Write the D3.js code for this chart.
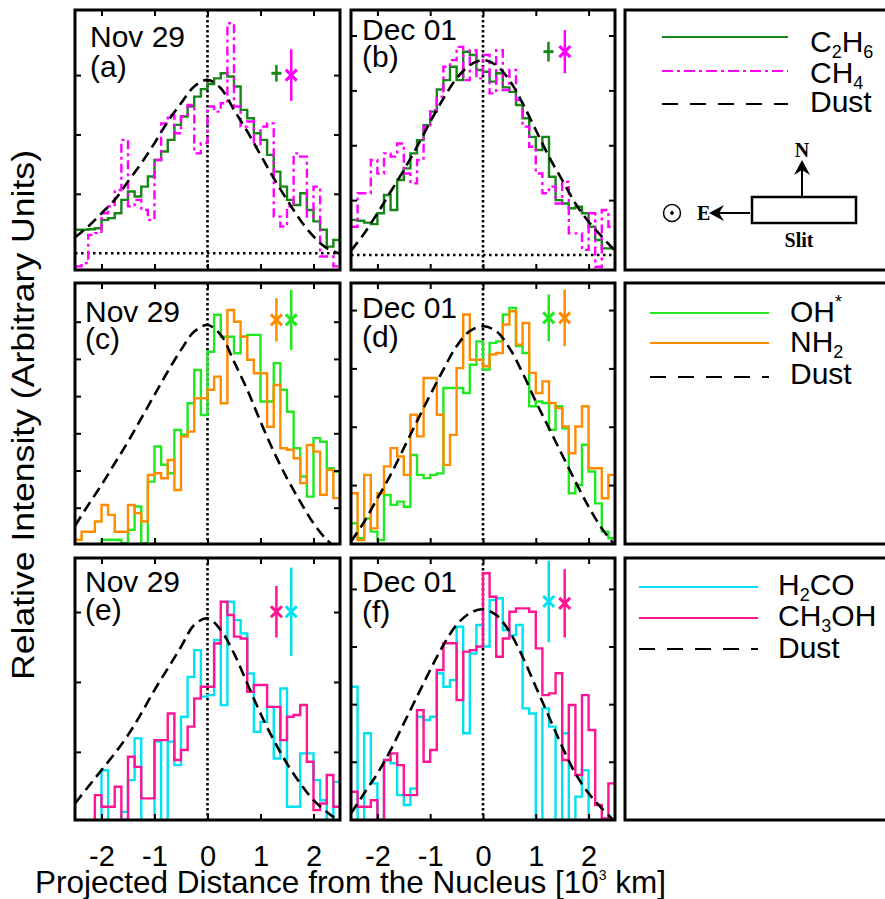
<!DOCTYPE html>
<html>
<head>
<meta charset="utf-8">
<script src="https://cdn.jsdelivr.net/npm/d3@7"></script>
<style>
  body { margin: 0; background: #fff; }
  svg { display: block; font-family: 'Liberation Sans', Arial, Helvetica, sans-serif; }
</style>
</head>
<body>
<svg id="chart" width="885" height="899"></svg>
<script>
// x grid: 40 slit pixels between -2.5 and 2.5 (10^3 km)
const xTicks = [-2, -1, 0, 1, 2];
const binEdges = d3.range(41).map(i => -2.5 + i * 0.125);
const dustX = [-2.5, -2.25, -2, -1.75, -1.5, -1.25, -1, -0.75, -0.5, -0.25, 0,
  0.25, 0.5, 0.75, 1, 1.25, 1.5, 1.75, 2, 2.25, 2.5];

// (a) Nov 29
const c2h6Nov = [0.078,0.078,0.08,0.083,0.111,0.117,0.133,0.178,0.206,0.189,0.222,0.256,0.311,0.339,0.378,0.428,0.456,0.489,0.522,0.547,
  0.564,0.583,0.6,0.589,0.556,0.478,0.45,0.4,0.378,0.328,0.272,0.222,0.178,0.161,0.2,0.144,0.106,0.078,0.022,0.044];
const ch4Nov = [-0.044,-0.033,0.061,0.067,0.133,0.156,0.211,0.378,0.156,0.178,0.144,0.111,0.311,0.433,0.461,0.4,0.456,0.494,0.333,0.367,
  0.489,0.472,0.5,0.767,0.489,0.422,0.439,0.356,0.422,0.433,0.122,0.089,0.156,0.333,0.322,0.122,0.222,-0.011,-0.011,-0.044];
const dustA = [0.053,0.089,0.133,0.178,0.239,0.3,0.367,0.439,0.5,0.556,0.578,0.55,0.478,0.406,0.328,0.25,0.178,0.111,0.056,0.017,-0.002];

// (b) Dec 01
const c2h6Dec = [0.117,0.114,0.108,0.103,0.139,0.2,0.15,0.25,0.289,0.339,0.383,0.433,0.478,0.552,0.583,0.628,0.583,0.678,0.667,0.617,
  0.611,0.578,0.606,0.559,0.544,0.5,0.456,0.394,0.35,0.394,0.261,0.183,0.172,0.156,0.161,0.139,0.094,0.05,0.022,0.022];
const ch4Dec = [0.094,0.206,0.206,0.317,0.272,0.339,0.328,0.372,0.272,0.239,0.317,0.428,0.483,0.528,0.628,0.65,0.694,0.583,0.683,0.589,
  0.667,0.539,0.683,0.55,0.617,0.517,0.428,0.361,0.272,0.206,0.228,0.172,0.244,0.072,0.072,0.017,0.139,-0.039,0.15,0.094];
const dustB = [0.014,0.072,0.139,0.211,0.283,0.361,0.444,0.522,0.589,0.633,0.65,0.633,0.583,0.506,0.417,0.328,0.25,0.172,0.111,0.061,0.014];

// (c) Nov 29
const ohNov = [-0.011,-0.011,-0.011,-0.011,0.017,0.017,0.017,0.006,0.05,0.128,0.006,0.211,0.328,0.267,0.239,0.383,0.367,0.472,0.583,0.433,
  0.644,0.767,0.694,0.694,0.639,0.694,0.7,0.7,0.478,0.478,0.606,0.517,0.444,0.322,0.228,0.161,0.356,0.344,0.256,0.244];
const nh2Nov = [0.017,0.044,0.044,0.078,0.133,0.1,0.044,0.044,0.133,0.106,0.078,0.233,0.239,0.222,0.283,0.183,0.361,0.378,0.489,0.489,
  0.517,0.561,0.472,0.783,0.744,0.694,0.617,0.572,0.572,0.394,0.533,0.322,0.317,0.289,0.206,0.333,0.311,0.167,0.25,0.156];
const dustC = [0.064,0.133,0.2,0.272,0.344,0.422,0.5,0.578,0.65,0.711,0.733,0.7,0.611,0.517,0.411,0.311,0.222,0.144,0.072,0.017,-0.022];

// (d) Dec 01
const ohDec = [0.067,0.017,0.083,0.039,0.011,0.161,0.128,0.139,0.122,0.294,0.228,0.217,0.228,0.233,0.517,0.517,0.517,0.5,0.594,0.672,
  0.578,0.667,0.672,0.761,0.783,0.656,0.633,0.456,0.472,0.467,0.378,0.456,0.383,0.167,0.194,0.328,0.239,0.133,0.039,0.017];
const nh2Dec = [0.167,0.011,0.228,0.05,0.167,0.256,0.317,0.289,0.228,0.428,0.356,0.55,0.55,0.428,0.261,0.361,0.583,0.761,0.611,0.611,
  0.589,0.628,0.633,0.728,0.772,0.661,0.733,0.567,0.5,0.539,0.467,0.45,0.389,0.3,0.389,0.456,0.25,0.25,0.15,0.228];
const dustD = [0.006,0.072,0.15,0.228,0.317,0.406,0.494,0.578,0.656,0.706,0.722,0.706,0.65,0.567,0.472,0.383,0.294,0.206,0.122,0.05,-0.006];

// (e) Nov 29
const h2coNov = [-0.006,-0.006,-0.006,-0.006,0.172,0,0,0.033,0.139,0.278,0,0,0.267,0,0.267,0.189,0.35,0.483,0.572,0.417,
  0.422,0.606,0.389,0.733,0.672,0.628,0.494,0.3,0.333,0.383,0.211,0.444,0.05,0.05,0.228,0.228,0.139,0.072,0.006,0.133];
const ch3ohNov = [0.006,-0.006,-0.006,0.089,0.05,0.05,0.117,0.006,0.217,0.183,0.078,0.078,0.272,0.272,0.361,0.206,0.239,0.317,0.411,0.45,
  0.45,0.594,0.733,0.689,0.617,0.611,0.433,0.456,0.456,0.383,0.383,0.272,0.35,0.356,0.389,0.2,0.039,0.061,0.156,0.05];
const dustE = [0.061,0.117,0.172,0.228,0.289,0.361,0.439,0.511,0.583,0.656,0.678,0.639,0.561,0.461,0.361,0.272,0.194,0.128,0.072,0.033,0];

// (f) Dec 01
const h2coDec = [0.442,-0.002,0.287,0.12,-0.002,0.198,0.187,0.081,0.048,0.103,0.342,0.331,0.342,0.487,0.442,0.464,0.642,0.287,0.553,0.648,
  0.576,0.731,0.737,0.631,0.614,0.648,0.37,0.353,-0.002,0.37,0.309,-0.002,0.287,-0.002,0.076,0.164,-0.002,-0.002,-0.002,-0.002];
const ch3ohDec = [0.092,0.042,0.042,0.064,-0.002,0.198,0.22,0.181,0.081,0.081,0.364,0.192,0.231,0.498,0.587,0.587,0.398,0.559,0.564,0.576,
  0.82,0.742,0.542,0.603,0.692,0.703,0.703,0.692,0.57,0.414,0.42,0.487,0.198,0.381,0.148,0.414,0.298,0.048,0.003,0.12];
const dustF = [0.02,0.087,0.153,0.231,0.32,0.409,0.498,0.581,0.648,0.687,0.7,0.681,0.626,0.542,0.442,0.342,0.242,0.153,0.087,0.037,-0.008];

const colors = { c2h6: '#178517', ch4: '#ff00ff', oh: '#22e822', nh2: '#ff8c00', h2co: '#00e2f0', ch3oh: '#ff1493', dust: '#000' };
const dashDot = '9,4,3,4';

// layout
const cols = [[75, 340], [351, 615], [625, 888]];
const rows = [[10, 270], [283, 544], [558, 820]];

const panels = [
  { col: 0, row: 0, yDomain: [-0.056, 0.811], yStep: 0.198, zeroLine: true, date: 'Nov 29', tag: '(a)', lab: [15, 37, 67],
    series: [{ v: c2h6Nov, c: colors.c2h6 }, { v: ch4Nov, c: colors.ch4, dash: dashDot }], dust: dustA,
    errs: [{ x: 1.30, y: 0.6, e: 0.028, c: colors.c2h6, plus: true }, { x: 1.58, y: 0.594, e: 0.086, c: colors.ch4 }] },
  { col: 1, row: 0, yDomain: [-0.05, 0.817], yStep: 0.183, zeroLine: true, date: 'Dec 01', tag: '(b)', lab: [11, 30, 57],
    series: [{ v: c2h6Dec, c: colors.c2h6 }, { v: ch4Dec, c: colors.ch4, dash: dashDot }], dust: dustB,
    errs: [{ x: 1.24, y: 0.678, e: 0.033, c: colors.c2h6, plus: true }, { x: 1.55, y: 0.678, e: 0.072, c: colors.ch4 }] },
  { col: 0, row: 1, yDomain: [0.003, 0.873], yStep: 0.124, date: 'Nov 29', tag: '(c)', lab: [10, 39, 66],
    series: [{ v: ohNov, c: colors.oh }, { v: nh2Nov, c: colors.nh2 }], dust: dustC,
    errs: [{ x: 1.30, y: 0.75, e: 0.072, c: colors.nh2 }, { x: 1.58, y: 0.75, e: 0.1, c: colors.oh }] },
  { col: 1, row: 1, yDomain: [-0.002, 0.866], yStep: 0.194, date: 'Dec 01', tag: '(d)', lab: [11, 35, 64],
    series: [{ v: ohDec, c: colors.oh }, { v: nh2Dec, c: colors.nh2 }], dust: dustD,
    errs: [{ x: 1.245, y: 0.75, e: 0.078, c: colors.oh }, { x: 1.547, y: 0.75, e: 0.094, c: colors.nh2 }] },
  { col: 0, row: 2, yDomain: [0.006, 0.879], yStep: 0.233, date: 'Nov 29', tag: '(e)', lab: [10, 34, 62], xLabels: true,
    series: [{ v: h2coNov, c: colors.h2co }, { v: ch3ohNov, c: colors.ch3oh }], dust: dustE,
    errs: [{ x: 1.30, y: 0.70, e: 0.086, c: colors.ch3oh }, { x: 1.58, y: 0.70, e: 0.147, c: colors.h2co }] },
  { col: 1, row: 2, yDomain: [-0.002, 0.871], yStep: 0.192, date: 'Dec 01', tag: '(f)', lab: [11, 34, 64], xLabels: true,
    series: [{ v: h2coDec, c: colors.h2co }, { v: ch3ohDec, c: colors.ch3oh }], dust: dustF,
    errs: [{ x: 1.245, y: 0.726, e: 0.136, c: colors.h2co }, { x: 1.547, y: 0.72, e: 0.114, c: colors.ch3oh }] }
];

const svg = d3.select('#chart');
const defs = svg.append('defs');

panels.forEach((p, i) => {
  const [x0, x1] = cols[p.col];
  const [y0, y1] = rows[p.row];
  const x = d3.scaleLinear().domain([-2.5, 2.5]).range([x0, x1]);
  const y = d3.scaleLinear().domain(p.yDomain).range([y1, y0]);
  const yTicks = d3.range(p.yStep, p.yDomain[1] - 0.02, p.yStep);

  defs.append('clipPath').attr('id', 'clip' + i)
    .append('rect').attr('x', x0).attr('y', y0).attr('width', x1 - x0).attr('height', y1 - y0);

  const g = svg.append('g');
  const plot = g.append('g').attr('clip-path', `url(#clip${i})`);

  // dotted reference lines
  plot.append('line')
    .attr('x1', x(0)).attr('x2', x(0)).attr('y1', y0).attr('y2', y1)
    .attr('stroke', '#000').attr('stroke-width', 2.6).attr('stroke-dasharray', '2.5,2.5');
  if (p.zeroLine) {
    plot.append('line')
      .attr('x1', x0).attr('x2', x1).attr('y1', y(0)).attr('y2', y(0))
      .attr('stroke', '#000').attr('stroke-width', 2.4).attr('stroke-dasharray', '2.5,3.5');
  }

  const step = d3.line().curve(d3.curveStepAfter).x(d => x(d[0])).y(d => y(d[1]));
  p.series.forEach(s => {
    const pts = s.v.map((v, k) => [binEdges[k], v]).concat([[binEdges[40], s.v[39]]]);
    plot.append('path').datum(pts)
      .attr('d', step)
      .attr('fill', 'none')
      .attr('stroke', s.c)
      .attr('stroke-width', 2.4)
      .attr('stroke-dasharray', s.dash || null);
  });

  const smooth = d3.line().curve(d3.curveCatmullRom).x(d => x(d[0])).y(d => y(d[1]));
  plot.append('path').datum(dustX.map((xv, k) => [xv, p.dust[k]]))
    .attr('d', smooth)
    .attr('fill', 'none')
    .attr('stroke', colors.dust)
    .attr('stroke-width', 2.6)
    .attr('stroke-dasharray', '11,6');

  // representative error bars
  p.errs.forEach(e => {
    const cx = x(e.x), cy = y(e.y);
    g.append('line').attr('x1', cx).attr('x2', cx).attr('y1', y(e.y - e.e)).attr('y2', y(e.y + e.e))
      .attr('stroke', e.c).attr('stroke-width', 2.5);
    if (e.plus) {
      g.append('line').attr('x1', cx - 5).attr('x2', cx + 5).attr('y1', cy).attr('y2', cy)
        .attr('stroke', e.c).attr('stroke-width', 3);
    } else {
      g.append('path').attr('d', `M${cx - 5.5},${cy - 5.5}L${cx + 5.5},${cy + 5.5}M${cx - 5.5},${cy + 5.5}L${cx + 5.5},${cy - 5.5}`)
        .attr('stroke', e.c).attr('stroke-width', 3);
    }
  });

  // inward ticks on all four sides
  const axes = [
    [d3.axisBottom(x).tickValues(xTicks), `translate(0,${y1})`, p.xLabels],
    [d3.axisTop(x).tickValues(xTicks), `translate(0,${y0})`, false],
    [d3.axisLeft(y).tickValues(yTicks), `translate(${x0},0)`, false],
    [d3.axisRight(y).tickValues(yTicks), `translate(${x1},0)`, false]
  ];
  axes.forEach(([ax, tr, labels]) => {
    ax.tickSize(-6).tickPadding(labels ? 25 : 0).tickFormat(labels ? (d => String(d)) : '');
    const a = g.append('g').attr('transform', tr).call(ax);
    a.select('.domain').remove();
    a.selectAll('.tick line').attr('stroke', '#000').attr('stroke-width', 2);
    a.selectAll('.tick text').attr('fill', '#000').style('font-size', '29px')
      .style('font-family', "'Liberation Sans', Arial, sans-serif");
  });

  g.append('rect').attr('x', x0).attr('y', y0).attr('width', x1 - x0).attr('height', y1 - y0)
    .attr('fill', 'none').attr('stroke', '#000').attr('stroke-width', 3);

  g.append('text').attr('x', x0 + p.lab[0]).attr('y', y0 + p.lab[1]).style('font-size', '30px').text(p.date);
  g.append('text').attr('x', x0 + p.lab[0]).attr('y', y0 + p.lab[2]).style('font-size', '30px').text(p.tag);
});

// legend boxes
const legends = [
  { row: 0, x1: 662, x2: 788, tx: 810, items: [
    { parts: [['C', ''], ['2', 'sub'], ['H', ''], ['6', 'sub']], c: colors.c2h6, ly: 37, ty: 52 },
    { parts: [['CH', ''], ['4', 'sub']], c: colors.ch4, dash: '11,4,3,4', ly: 71, ty: 83 },
    { parts: [['Dust', '']], c: colors.dust, dash: '16,12', ly: 104, ty: 112 } ] },
  { row: 1, x1: 650, x2: 769, tx: 790, items: [
    { parts: [['OH', ''], ['*', 'sup']], c: colors.oh, ly: 313, ty: 322 },
    { parts: [['NH', ''], ['2', 'sub']], c: colors.nh2, ly: 343, ty: 352 },
    { parts: [['Dust', '']], c: colors.dust, dash: '16,12', ly: 377, ty: 384 } ] },
  { row: 2, x1: 639, x2: 758, tx: 778, items: [
    { parts: [['H', ''], ['2', 'sub'], ['CO', '']], c: colors.h2co, ly: 587, ty: 595 },
    { parts: [['CH', ''], ['3', 'sub'], ['OH', '']], c: colors.ch3oh, ly: 618, ty: 626 },
    { parts: [['Dust', '']], c: colors.dust, dash: '16,12', ly: 649, ty: 658 } ] }
];

legends.forEach(L => {
  const [x0, x1] = cols[2];
  const [y0, y1] = rows[L.row];
  const g = svg.append('g');
  g.append('rect').attr('x', x0).attr('y', y0).attr('width', x1 - x0).attr('height', y1 - y0)
    .attr('fill', 'none').attr('stroke', '#000').attr('stroke-width', 3);
  L.items.forEach(it => {
    g.append('line').attr('x1', L.x1).attr('x2', L.x2).attr('y1', it.ly).attr('y2', it.ly)
      .attr('stroke', it.c).attr('stroke-width', 2).attr('stroke-dasharray', it.dash || null);
    const t = g.append('text').attr('x', L.tx).attr('y', it.ty).style('font-size', '30px');
    let shift = 0;
    it.parts.forEach(([s, kind]) => {
      const want = kind === 'sub' ? 6 : kind === 'sup' ? -14 : 0;
      t.append('tspan').attr('dy', want - shift).style('font-size', kind ? '18px' : '30px').text(s);
      shift = want;
    });
  });
});

// slit orientation sketch
const sk = svg.append('g').attr('stroke', '#000').attr('fill', 'none');
sk.append('circle').attr('cx', 672).attr('cy', 213).attr('r', 8.5).attr('stroke-width', 1.5);
sk.append('circle').attr('cx', 672).attr('cy', 213).attr('r', 1.4).attr('fill', '#000');
sk.append('rect').attr('x', 752).attr('y', 197).attr('width', 104).attr('height', 26).attr('stroke-width', 2.5);
sk.append('line').attr('x1', 750).attr('x2', 718).attr('y1', 213).attr('y2', 213).attr('stroke-width', 2);
sk.append('path').attr('d', 'M709,213L724,205L719,213L724,221Z').attr('fill', '#000').attr('stroke', 'none');
sk.append('line').attr('x1', 802).attr('x2', 802).attr('y1', 196).attr('y2', 170).attr('stroke-width', 2);
sk.append('path').attr('d', 'M802,160L794,175L802,170L810,175Z').attr('fill', '#000').attr('stroke', 'none');
const serif = "'Liberation Serif', 'Times New Roman', serif";
svg.append('text').attr('x', 697).attr('y', 220).style('font-family', serif).style('font-weight', 'bold')
  .style('font-size', '20px').text('E');
svg.append('text').attr('x', 802).attr('y', 157).attr('text-anchor', 'middle').style('font-family', serif)
  .style('font-weight', 'bold').style('font-size', '20px').text('N');
svg.append('text').attr('x', 799).attr('y', 247).attr('text-anchor', 'middle').style('font-family', serif)
  .style('font-weight', 'bold').style('font-size', '20px').text('Slit');

// axis titles
svg.append('text').attr('transform', 'translate(34,415) rotate(-90)').attr('text-anchor', 'middle')
  .attr('textLength', 530).attr('lengthAdjust', 'spacingAndGlyphs')
  .style('font-size', '31px').text('Relative Intensity (Arbitrary Units)');
const xt = svg.append('text').attr('x', 35).attr('y', 893).style('font-size', '31.5px');
xt.append('tspan').text('Projected Distance from the Nucleus [10');
xt.append('tspan').attr('dy', -13).style('font-size', '14px').text('3');
xt.append('tspan').attr('dy', 13).text(' km]');
</script>
</body>
</html>
